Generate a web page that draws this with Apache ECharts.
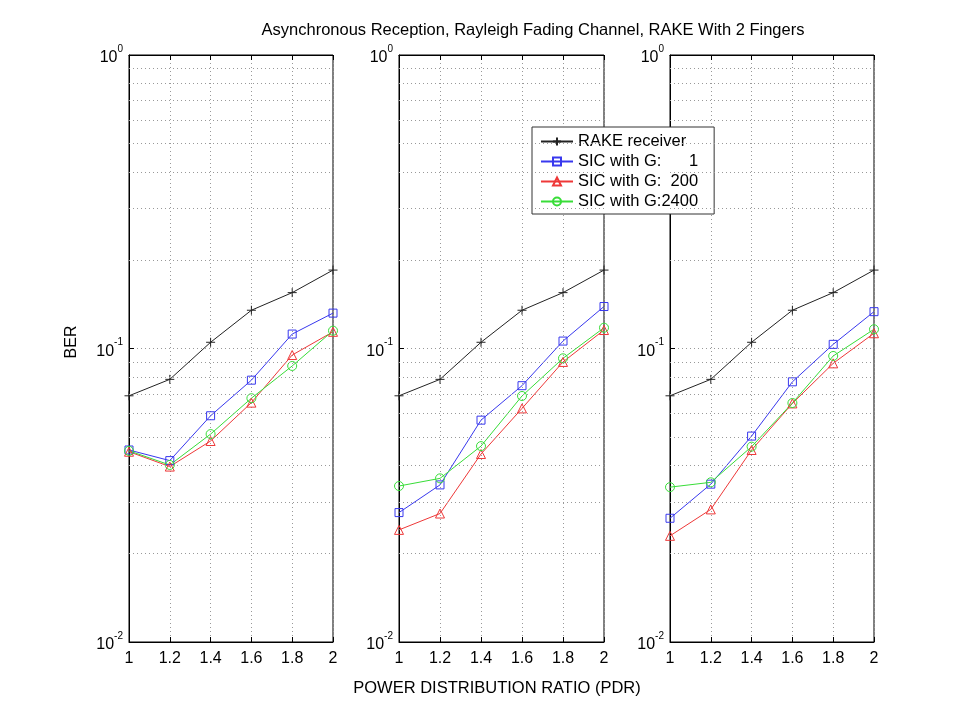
<!DOCTYPE html>
<html>
<head>
<meta charset="utf-8">
<script src="https://cdn.jsdelivr.net/npm/echarts@6/dist/echarts.min.js"></script>
<style>
html, body { margin: 0; padding: 0; background: #fff; }
#main { width: 955px; height: 720px; }
</style>
</head>
<body>
<div id="main"></div>
<script>
var FONT = 'Liberation Sans, Arial, Helvetica, sans-serif';

// x values (PDR)
var pdr = [1, 1.2, 1.4, 1.6, 1.8, 2];
// y grid lines between decades
var minorGrid = [0.02, 0.03, 0.04, 0.05, 0.06, 0.07, 0.08, 0.09,
                 0.2, 0.3, 0.4, 0.5, 0.6, 0.7, 0.8, 0.9];

var names = ['RAKE receiver', 'SIC with G:      1', 'SIC with G:  200', 'SIC with G:2400'];

// panel 1
var rake1    = [0.069, 0.0785, 0.105, 0.135, 0.155, 0.185];
var sicG1_1    = [0.0451, 0.0415, 0.059, 0.078, 0.112, 0.132];
var sicG200_1  = [0.0445, 0.0396, 0.0484, 0.0654, 0.095, 0.114];
var sicG2400_1 = [0.0448, 0.0401, 0.0511, 0.0677, 0.0872, 0.115];
// panel 2
var rake2    = [0.069, 0.0785, 0.105, 0.135, 0.155, 0.185];
var sicG1_2    = [0.0276, 0.0343, 0.057, 0.0747, 0.106, 0.139];
var sicG200_2  = [0.0241, 0.0274, 0.0437, 0.0625, 0.090, 0.1156];
var sicG2400_2 = [0.034, 0.0361, 0.0465, 0.0689, 0.0926, 0.1177];
// panel 3
var rake3    = [0.069, 0.0785, 0.105, 0.135, 0.155, 0.185];
var sicG1_3    = [0.0264, 0.0345, 0.0503, 0.077, 0.1033, 0.1335];
var sicG200_3  = [0.023, 0.0283, 0.0451, 0.065, 0.089, 0.1127];
var sicG2400_3 = [0.0337, 0.035, 0.0463, 0.0652, 0.0943, 0.1163];

var panels = [
    [rake1, sicG1_1, sicG200_1, sicG2400_1],
    [rake2, sicG1_2, sicG200_2, sicG2400_2],
    [rake3, sicG1_3, sicG200_3, sicG2400_3]
];

var colors = ['#222222', '#3838ee', '#ee3838', '#38dd38'];
var symbols = ['path://M0,5L10,5M5,0L5,10', 'rect', 'triangle', 'circle'];
var symSizes = [9, 8, 9, 9];

var gridLefts = [129, 399, 670];
var gridWidths = [204, 205, 204];

var grids = [], xAxes = [], yAxes = [], series = [];

for (var g = 0; g < 3; g++) {
    grids.push({
        left: gridLefts[g], top: 55, width: gridWidths[g], height: 587,
        show: true, borderColor: '#000', borderWidth: 1, backgroundColor: '#fff'
    });
    xAxes.push({
        gridIndex: g, type: 'value', min: 1, max: 2, interval: 0.2,
        axisLine: {lineStyle: {color: '#000'}},
        axisTick: {inside: true, length: 5, lineStyle: {color: '#000'}},
        axisLabel: {color: '#000', fontSize: 16, fontFamily: FONT, margin: 9},
        splitLine: {show: true, lineStyle: {color: '#999', type: [1, 3]}}
    });
    xAxes.push({
        gridIndex: g, type: 'value', min: 1, max: 2, interval: 0.2, position: 'top',
        axisLine: {lineStyle: {color: '#000'}},
        axisTick: {inside: true, length: 5, lineStyle: {color: '#000'}},
        axisLabel: {show: false},
        splitLine: {show: false}
    });
    yAxes.push({
        gridIndex: g, type: 'log', logBase: 10, min: 0.01, max: 1,
        axisLine: {show: true, lineStyle: {color: '#000'}},
        axisTick: {inside: true, length: 5, lineStyle: {color: '#000'}},
        splitLine: {show: true, lineStyle: {color: '#999', type: [1, 3]}},
        axisLabel: {
            margin: 6,
            formatter: function (v) {
                return '{b|10}{s|' + Math.round(Math.log10(v)) + '}';
            },
            rich: {
                b: {fontSize: 16, fontFamily: FONT, color: '#000', verticalAlign: 'bottom', lineHeight: 22},
                s: {fontSize: 10, fontFamily: FONT, color: '#000', verticalAlign: 'top', lineHeight: 14}
            }
        }
    });
    for (var k = 0; k < 4; k++) {
        var vals = panels[g][k];
        var s = {
            name: names[k],
            type: 'line',
            xAxisIndex: g * 2,
            yAxisIndex: g,
            data: pdr.map(function (x, i) { return [x, vals[i]]; }),
            symbol: symbols[k],
            symbolSize: symSizes[k],
            lineStyle: {color: colors[k], width: 1},
            itemStyle: {color: 'rgba(0,0,0,0)', borderColor: colors[k], borderWidth: 1},
            z: 3
        };
        if (k === 0) {
            s.markLine = {
                silent: true, symbol: 'none', animation: false,
                label: {show: false},
                lineStyle: {color: '#999', type: [1, 3], width: 1},
                data: minorGrid.map(function (v) { return {yAxis: v}; })
            };
        }
        series.push(s);
    }
}

var chart = echarts.init(document.getElementById('main'));
chart.setOption({
    animation: false,
    backgroundColor: '#fff',
    grid: grids,
    xAxis: xAxes,
    yAxis: yAxes,
    legend: {
        data: names,
        orient: 'vertical',
        left: 532, top: 127,
        padding: [6, 16, 4, 8],
        itemGap: 3,
        itemWidth: 32, itemHeight: 10,
        itemTextGap: 10,
        selectedMode: false,
        backgroundColor: '#fff',
        borderColor: '#333', borderWidth: 1,
        textStyle: {color: '#000', fontSize: 16.5, fontFamily: FONT}
    },
    graphic: [
        {type: 'text', x: 533, y: 30, z: 10,
         style: {text: 'Asynchronous Reception, Rayleigh Fading Channel, RAKE With 2 Fingers',
                 fill: '#000', fontSize: 16.5, fontFamily: FONT, textAlign: 'center', textVerticalAlign: 'middle'}},
        {type: 'text', x: 497, y: 688, z: 10,
         style: {text: 'POWER DISTRIBUTION RATIO (PDR)',
                 fill: '#000', fontSize: 16.5, fontFamily: FONT, textAlign: 'center', textVerticalAlign: 'middle'}},
        {type: 'text', x: 72, y: 342, rotation: Math.PI / 2, z: 10,
         style: {text: 'BER', fill: '#000', fontSize: 16, fontFamily: FONT, textAlign: 'center', textVerticalAlign: 'middle'}}
    ],
    series: series
});
</script>
</body>
</html>
